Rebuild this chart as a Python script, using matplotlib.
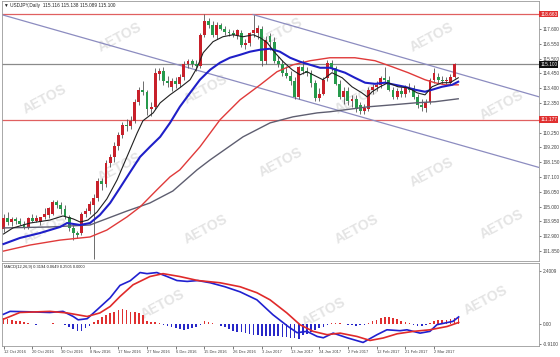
import matplotlib
matplotlib.use("Agg")
import matplotlib.pyplot as plt
import numpy as np

plt.rcParams['font.family'] = ['Liberation Sans', 'DejaVu Sans']

# ---- data ----
opens = [103.4, 104.2, 103.9, 104.1, 104.0, 103.8, 103.5, 104.2, 104.0, 103.9,
         104.3, 104.4, 104.5, 105.3, 105.1, 104.8, 104.3, 103.5, 103.1, 103.1,
         104.5, 104.7, 105.1, 105.6, 106.8, 106.6, 108.1, 108.5, 109.3, 110.1,
         110.8, 110.7, 111.1, 112.4, 113.3, 113.1, 111.9, 112.1, 114.4, 114.6,
         113.9, 113.5, 113.9, 113.7, 114.2, 115.1, 115.3, 115.1, 115.0, 117.2,
         118.2, 117.9, 117.2, 117.9, 117.6, 117.4, 117.3, 117.1, 117.3, 116.5,
         116.6, 117.3, 117.3, 117.6, 115.3, 117.1, 116.7, 115.3, 115.1, 114.5,
         114.3, 113.9, 112.8, 114.9, 114.6, 114.5, 113.8, 112.7, 113.0, 114.1,
         115.2, 114.8, 113.7, 112.8, 113.2, 112.5, 112.6, 112.2, 111.8, 111.9,
         113.3, 113.5, 113.6, 114.1, 114.0, 113.3, 112.8, 113.2, 113.0, 113.4,
         113.4, 112.8, 112.2, 112.0, 112.4, 114.0, 114.2, 114.0, 113.9, 113.8,
         114.2, 115.116]
highs = [104.5, 104.6, 104.3, 104.3, 104.2, 104.0, 104.3, 104.5, 104.4, 104.3,
         104.9, 105.0, 105.5, 105.5, 105.3, 105.1, 104.4, 103.7, 103.3, 104.6,
         104.9, 105.4, 105.9, 107.0, 107.0, 108.3, 108.7, 109.6, 110.3, 111.0,
         111.2, 111.4, 112.6, 113.5, 113.9, 113.3, 112.4, 114.8, 114.8, 114.9,
         114.3, 114.1, 114.2, 114.4, 115.3, 115.5, 115.5, 115.4, 117.3, 118.66,
         118.4, 118.2, 118.1, 118.0, 117.8, 117.6, 117.5, 117.6, 117.5, 116.9,
         117.4, 118.6, 117.9, 117.8, 117.1, 117.3, 117.0, 115.7, 115.4, 115.0,
         114.6, 114.2, 115.0, 115.4, 114.9, 114.7, 114.0, 113.4, 114.2, 115.4,
         115.4, 115.0, 114.0, 113.5, 113.5, 112.9, 112.9, 112.4, 112.3, 113.5,
         113.7, 113.9, 114.3, 114.9, 114.3, 113.5, 113.4, 113.5, 113.6, 113.8,
         113.6, 113.0, 112.6, 112.6, 114.1, 114.8, 114.5, 114.3, 114.2, 114.4,
         115.2, 115.138]
lows = [103.2, 103.7, 103.6, 103.8, 103.7, 103.4, 103.4, 103.9, 103.9, 103.7,
        104.1, 104.2, 104.4, 104.9, 104.5, 104.1, 103.3, 102.6, 102.8, 103.0,
        104.3, 104.5, 101.3, 105.4, 106.2, 106.4, 107.8, 108.2, 109.0, 109.9,
        110.4, 110.5, 110.9, 112.2, 112.9, 111.5, 111.4, 111.9, 114.0, 113.6,
        113.5, 113.2, 113.4, 113.5, 114.0, 114.8, 114.9, 114.6, 114.8, 117.0,
        117.7, 117.0, 116.9, 117.5, 117.2, 117.1, 117.0, 116.9, 116.3, 116.2,
        116.4, 117.0, 116.9, 115.0, 115.1, 116.1, 115.2, 114.9, 114.3, 114.1,
        113.6, 112.6, 112.6, 114.4, 114.3, 113.5, 112.5, 112.5, 112.9, 113.9,
        114.6, 113.6, 112.6, 112.3, 112.2, 112.1, 111.7, 111.6, 111.6, 111.8,
        113.0, 113.2, 113.4, 113.8, 113.2, 112.6, 112.6, 112.8, 112.8, 113.1,
        112.6, 112.0, 111.8, 111.7, 112.3, 113.8, 113.8, 113.7, 113.6, 113.6,
        114.1, 115.089]
closes = [104.2, 103.9, 104.1, 104.0, 103.8, 103.5, 104.2, 104.0, 104.2, 104.3,
          104.5, 104.9, 105.3, 105.1, 104.8, 104.3, 103.5, 103.1, 103.0, 104.5,
          104.7, 105.2, 105.6, 106.8, 106.6, 108.1, 108.5, 109.3, 110.1, 110.8,
          110.7, 111.1, 112.4, 113.3, 113.1, 111.9, 112.1, 114.5, 114.6, 113.9,
          113.8, 113.9, 113.7, 114.2, 115.1, 115.3, 115.1, 115.0, 117.2, 118.2,
          117.9, 117.2, 117.9, 117.6, 117.4, 117.3, 117.2, 117.5, 116.5, 116.6,
          117.3, 117.5, 117.7, 115.3, 116.8, 116.7, 115.3, 115.1, 114.5, 114.3,
          113.9, 112.8, 114.9, 114.6, 114.5, 113.8, 112.7, 113.0, 114.0, 115.2,
          114.8, 113.7, 112.8, 113.2, 112.5, 112.6, 111.9, 111.8, 112.0, 113.3,
          113.5, 113.6, 114.1, 114.0, 113.3, 112.8, 113.2, 113.0, 113.4, 113.3,
          112.8, 112.2, 112.1, 112.4, 114.0, 114.5, 114.0, 113.9, 114.0, 114.2,
          115.1, 115.100]

# moving averages: (bar position, price) pairs
ma_black_x = [0, 2.3, 6.5, 11.3, 14.5, 17, 18.7, 20.6, 22.8, 25.2, 27.7, 30.1, 32.6, 34,
              36.5, 38.2, 40.6, 43, 45.5, 47.2, 48.7, 51.1, 53.5, 56, 58.4, 60.9, 62.6,
              64.3, 66.2, 68.2, 70.4, 72.3, 74, 75.5, 77.9, 80.1, 82.6, 85, 87.4, 88.7,
              89.9, 91.8, 93.8, 96.2, 98.7, 100.9, 102.8, 104.5, 106.9, 108.9, 110.9]
ma_black_y = [103.06, 103.49, 103.84, 104.05, 104.34, 104.13, 103.91, 104.05, 104.62, 105.55,
              106.90, 108.53, 110.23, 111.09, 111.65, 112.36, 112.93, 113.43, 114.0, 114.85,
              115.92, 116.70, 117.05, 117.19, 117.05, 117.19, 116.98, 116.63, 115.92, 115.28,
              114.71, 114.35, 114.57, 114.35, 114.0, 114.50, 114.14, 113.50, 113.07, 112.79,
              113.15, 113.50, 113.79, 113.50, 113.43, 113.07, 112.93, 113.50, 113.79, 113.79,
              114.14]
ma_blue_x = [0, 4, 8.9, 13.8, 15.5, 18.7, 21.1, 23.5, 26, 28.4, 30.9, 33.3, 35.7, 38.2, 40.6,
             43, 45.5, 47.9, 50.4, 52.8, 55.2, 57.7, 60.1, 62.6, 65, 67.4, 69.9, 72.3, 74.8,
             77.2, 79.6, 83.3, 85.7, 88.2, 90.6, 93, 95.5, 97.9, 100.4, 102.8, 104.5, 106.9,
             109.4, 110.9]
ma_blue_y = [102.35, 102.78, 103.13, 103.56, 103.84, 103.70, 103.84, 104.41, 105.26, 106.33,
             107.46, 108.53, 109.24, 109.95, 110.94, 112.08, 113.07, 114.0, 114.71, 115.21,
             115.56, 115.77, 115.99, 116.13, 116.20, 115.99, 115.56, 115.28, 115.06, 114.85,
             114.85, 114.50, 114.14, 113.79, 113.71, 113.79, 113.64, 113.50, 113.29, 113.15,
             113.29, 113.50, 113.64, 113.86]
ma_red_x = [0, 6.5, 13.8, 21.1, 25.2, 30.1, 33.3, 37.4, 40.6, 43, 47.9, 52.8, 57.7, 62.6,
            66.7, 70.6, 74.8, 79.6, 85.7, 90.6, 94.8, 98.7, 102.8, 105.2, 107.7, 110.9]
ma_red_y = [101.85, 102.28, 102.63, 102.85, 103.34, 104.27, 104.98, 106.19, 107.11, 107.61,
            109.24, 111.16, 112.58, 113.64, 114.57, 115.06, 115.35, 115.56, 115.56, 115.35,
            114.92, 114.50, 114.0, 113.79, 113.64, 113.64]
ma_gray_x = [0, 11.3, 21.1, 30.1, 35.7, 41.3, 47.2, 50.4, 58.4, 65, 70.6, 76.5, 79.6, 83.3,
             88.9, 94.8, 100.4, 105.2, 110.9]
ma_gray_y = [103.49, 103.56, 103.70, 104.69, 105.26, 106.11, 107.61, 108.32, 109.95, 110.94,
             111.37, 111.65, 111.73, 111.87, 112.08, 112.22, 112.36, 112.44, 112.65]

# channel trend lines (start/end anchors)
lower_line_x = [-0.85, 130.6]
lower_line_y = [118.65, 107.78]
upper_line_x = [60.9, 130.6]
upper_line_y = [118.62, 112.79]

level_hi = 118.663
level_lo = 111.177
bid = 115.100

# MACD
macd_x = [0, 1.6, 6.5, 11.3, 14.5, 17, 18.2, 20.4, 22.8, 26, 28.4, 30.9, 33.3, 35, 37.4, 39.9,
          42.3, 44.8, 47.4, 50.4, 54, 57.7, 61.8, 65.7, 69.4, 71.6, 74, 76.5, 78, 80.4, 83.8,
          87.7, 91.1, 93.5, 96.7, 98.4, 101.6, 104, 105.7, 109.6, 111]
macd_y = [0.44, 0.57, 0.55, 0.52, 0.57, 0.34, 0.19, 0.24, 0.64, 1.18, 1.74, 1.95, 2.32, 2.27,
          2.32, 2.14, 1.96, 1.92, 1.96, 1.86, 1.68, 1.45, 1.09, 0.42, -0.11, -0.39, -0.33,
          -0.56, -0.62, -0.41, -0.62, -0.83, -0.48, -0.26, -0.30, -0.26, -0.41, -0.33, -0.03,
          0.12, 0.32]
signal_x = [0, 1.6, 4, 11.3, 15.5, 20.4, 23.5, 26, 28.4, 31.6, 35.7, 38.9, 43, 47.4, 52.8,
            57.7, 61.8, 65, 69.1, 72.3, 75.5, 78.9, 82.1, 86.2, 89.4, 92.6, 96, 100, 104,
            108.2, 111]
signal_y = [0.22, 0.34, 0.52, 0.57, 0.50, 0.34, 0.50, 0.79, 1.24, 1.77, 2.14, 2.27, 2.14, 1.96,
            1.86, 1.68, 1.41, 1.09, 0.50, -0.03, -0.33, -0.48, -0.41, -0.56, -0.74, -0.63,
            -0.44, -0.33, -0.26, -0.11, 0.07]
hist = [0.27, 0.24, 0.19, 0.15, 0.12, 0.07, 0.03, -0.02, -0.03, -0.02,
        -0.01, 0.01, 0.03, 0.02, -0.01, -0.05, -0.12, -0.22, -0.32, -0.30,
        -0.20, -0.08, 0.08, 0.20, 0.30, 0.40, 0.48, 0.55, 0.63, 0.68,
        0.64, 0.56, 0.52, 0.50, 0.42, 0.15, 0.08, 0.07, 0.05, -0.03,
        -0.10, -0.15, -0.20, -0.24, -0.25, -0.22, -0.20, -0.15, -0.05, 0.12,
        0.10, 0.06, -0.02, -0.08, -0.15, -0.22, -0.30, -0.34, -0.38, -0.42,
        -0.45, -0.48, -0.50, -0.55, -0.55, -0.54, -0.56, -0.55, -0.57, -0.58,
        -0.62, -0.65, -0.67, -0.50, -0.44, -0.38, -0.28, -0.20, -0.15, -0.05,
        0.05, 0.06, 0.03, -0.01, -0.04, -0.06, -0.08, -0.06, -0.03, 0.03,
        0.12, 0.20, 0.26, 0.30, 0.31, 0.27, 0.22, 0.12, 0.07, 0.04,
        -0.04, -0.07, -0.09, -0.05, 0.06, 0.13, 0.16, 0.17, 0.19, 0.21,
        0.25, 0.25]

date_labels = ["12 Oct 2016", "20 Oct 2016", "30 Oct 2016", "8 Nov 2016", "17 Nov 2016",
               "27 Nov 2016", "6 Dec 2016", "15 Dec 2016", "26 Dec 2016", "3 Jan 2017",
               "13 Jan 2017", "24 Jan 2017", "2 Feb 2017", "12 Feb 2017", "21 Feb 2017",
               "2 Mar 2017"]
price_ticks = [117.6, 116.55, 115.5, 114.45, 113.4, 112.35, 110.25, 109.2, 108.15,
               107.1, 106.05, 105.0, 103.95, 102.9, 101.85]

# ---- drawing ----
W, H = 560, 357
fig = plt.figure(figsize=(W / 100, H / 100), dpi=100)
fig.patch.set_facecolor("white")
ax = fig.add_axes([2 / W, 1 - 261 / H, 537 / W, 260 / H])
ax2 = fig.add_axes([2 / W, 1 - 346 / H, 537 / W, 83 / H])

n = len(opens)
idx = np.arange(n)
o, h, l, c = map(np.array, (opens, highs, lows, closes))
up = c >= o
body_col = np.where(up, "#c8202a", "#279a4c")

# watermark
for wx, wy in [(0.22, 0.86), (0.52, 0.88), (0.80, 0.86), (0.08, 0.62), (0.38, 0.66),
               (0.66, 0.62), (0.93, 0.60), (0.22, 0.36), (0.52, 0.38), (0.80, 0.34),
               (0.08, 0.12), (0.38, 0.12), (0.66, 0.12), (0.93, 0.14)]:
    ax.text(wx, wy, "AETOS", transform=ax.transAxes, rotation=28, fontsize=10,
            fontweight="bold", color="#e4e4e4", ha="center", va="center", zorder=0)
for wx, wy in [(0.30, 0.5), (0.60, 0.4), (0.90, 0.55)]:
    ax2.text(wx, wy, "AETOS", transform=ax2.transAxes, rotation=28, fontsize=10,
             fontweight="bold", color="#e4e4e4", ha="center", va="center", zorder=0)

ax.axhline(level_hi, color="#e06060", lw=0.9, zorder=1)
ax.axhline(level_lo, color="#e06060", lw=0.9, zorder=1)
ax.axhline(bid, color="#8a8a8a", lw=0.9, zorder=1)
ax.plot(lower_line_x, lower_line_y, color="#8c8cc0", lw=0.9, zorder=1)
ax.plot(upper_line_x, upper_line_y, color="#8c8cc0", lw=0.9, zorder=1)

ax.vlines(idx, l, h, color="#555555", lw=0.6, zorder=2)
ax.bar(idx, np.maximum(np.abs(c - o), 0.03), bottom=np.minimum(o, c), width=0.7,
       color=body_col, zorder=3)

ax.plot(ma_gray_x, ma_gray_y, color="#5e5e70", lw=1.0, zorder=4)
ax.plot(ma_red_x, ma_red_y, color="#e03a3a", lw=1.0, zorder=4)
ax.plot(ma_blue_x, ma_blue_y, color="#1f1fc8", lw=1.5, zorder=4)
ax.plot(ma_black_x, ma_black_y, color="#202020", lw=0.8, zorder=5)

xl = (-0.37, 130.6)
ax.set_xlim(*xl)
ax.set_ylim(101.146, 119.585)
ax.set_xticks([])
ax.yaxis.tick_right()
ax.set_yticks(price_ticks)
ax.set_yticklabels(["%.3f" % v for v in price_ticks])
ax.tick_params(axis="y", labelsize=3.4, length=1.5, width=0.5, pad=1, colors="#444444")

for val, fc in [(level_hi, "#e03030"), (bid, "#111111"), (level_lo, "#e03030")]:
    ax.annotate("%.3f" % val, xy=(1.0, val), xycoords=("axes fraction", "data"),
                xytext=(1.0, 0), textcoords="offset points", ha="left", va="center",
                fontsize=3.4, color="white",
                bbox=dict(boxstyle="square,pad=0.2", fc=fc, ec="none"))

ax.text(0.004, 0.992, "\u25bc USDJPY,Daily  115.116 115.138 115.089 115.100",
        transform=ax.transAxes, fontsize=3.4, va="top", ha="left", color="#222222")

# MACD panel
ax2.bar(idx, hist, width=0.4, color=np.where(np.array(hist) >= 0, "#e03030", "#2828c8"),
        zorder=2)
ax2.plot(macd_x, macd_y, color="#2020d0", lw=1.2, zorder=3)
ax2.plot(signal_x, signal_y, color="#e02a2a", lw=1.2, zorder=3)
ax2.set_xlim(*xl)
ax2.set_ylim(-0.99, 2.75)
ax2.yaxis.tick_right()
ax2.set_yticks([2.4009, 0.0, -0.91])
ax2.set_yticklabels(["2.4009", "0.00", "-0.9100"])
ax2.tick_params(axis="y", labelsize=3.4, length=1.5, width=0.5, pad=1, colors="#444444")
ax2.set_xticks(range(0, 7 * len(date_labels), 7))
ax2.set_xticklabels(date_labels, ha="left")
ax2.tick_params(axis="x", labelsize=2.9, length=2, width=0.5, pad=1.2, colors="#444444")
ax2.text(0.004, 0.97, "MACD(12,26,9) 0.3194 0.0649 0.2505 0.0000",
         transform=ax2.transAxes, fontsize=2.9, va="top", ha="left", color="#222222")

for a in (ax, ax2):
    for s in a.spines.values():
        s.set_color("#9a9a9a")
        s.set_linewidth(0.6)

fig.savefig("out.png", dpi=100, facecolor="white")
